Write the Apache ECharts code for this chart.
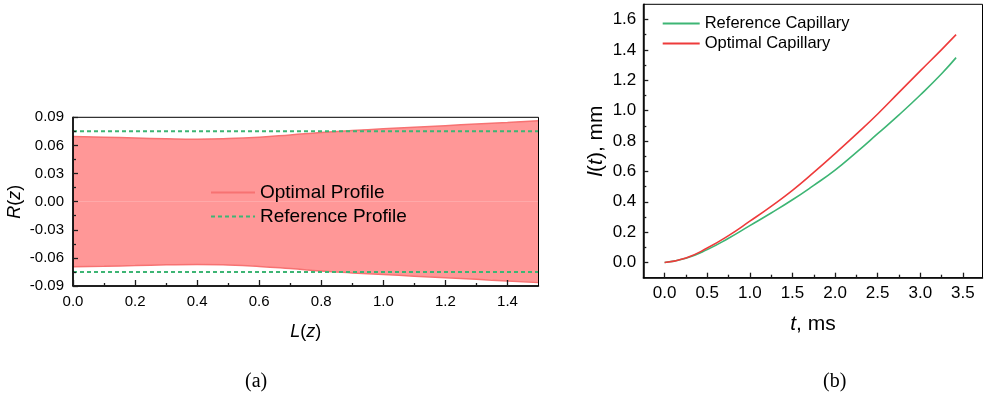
<!DOCTYPE html>
<html>
<head>
<meta charset="utf-8">
<script src="https://cdn.jsdelivr.net/npm/echarts@6/dist/echarts.min.js"></script>
<style>
  html, body { margin: 0; padding: 0; background: #fff; }
  #chart { width: 988px; height: 402px; }
</style>
</head>
<body>
<div id="chart"></div>
<script>
// (a) capillary radius profiles along the axis
const zPos = [0, 0.1, 0.2, 0.3, 0.4, 0.5, 0.6, 0.7, 0.8, 0.9, 1.0, 1.1, 1.2, 1.3, 1.4, 1.5];
const optimalUpper = [0.0695, 0.0688, 0.0679, 0.0671, 0.0667, 0.0673, 0.0688, 0.0712, 0.0738, 0.0759, 0.0777, 0.0794, 0.0811, 0.0828, 0.0845, 0.0863];
const optimalLower = [-0.0695, -0.0690, -0.0682, -0.0674, -0.0670, -0.0676, -0.0691, -0.0714, -0.0740, -0.0760, -0.0778, -0.0795, -0.0812, -0.0829, -0.0846, -0.0864];
const refZ = [0, 1.5];
const referenceUpper = [0.075, 0.075];
const referenceLower = [-0.075, -0.075];

// (b) meniscus position over time
const tMs = [0, 0.25, 0.5, 0.75, 1.0, 1.25, 1.5, 1.75, 2.0, 2.25, 2.5, 2.75, 3.0, 3.25, 3.42];
const referenceCapillary = [0, 0.028, 0.085, 0.160, 0.243, 0.326, 0.413, 0.508, 0.608, 0.725, 0.848, 0.972, 1.103, 1.243, 1.349];
const optimalCapillary = [0, 0.030, 0.095, 0.177, 0.272, 0.370, 0.475, 0.593, 0.717, 0.845, 0.978, 1.120, 1.262, 1.402, 1.500];

// tick positions
const aXTicks = [0, 0.2, 0.4, 0.6, 0.8, 1.0, 1.2, 1.4];
const aXMinor = [0.1, 0.3, 0.5, 0.7, 0.9, 1.1, 1.3];
const aYTicks = [-0.09, -0.06, -0.03, 0, 0.03, 0.06, 0.09];
const aYMinor = [-0.075, -0.045, -0.015, 0.015, 0.045, 0.075];
const bXTicks = [0, 0.5, 1.0, 1.5, 2.0, 2.5, 3.0, 3.5];
const bXMinor = [0.25, 0.75, 1.25, 1.75, 2.25, 2.75, 3.25];
const bYTicks = [0, 0.2, 0.4, 0.6, 0.8, 1.0, 1.2, 1.4, 1.6];
const bYMinor = [0.1, 0.3, 0.5, 0.7, 0.9, 1.1, 1.3, 1.5];

const FONT = '"Liberation Sans", Arial, sans-serif';
const SERIF = '"Liberation Serif", "Times New Roman", serif';
const FILL = '#ff9797';
const EDGE = '#f77272';
const GREEN = '#3db574';
const RED = '#ee3b3b';
const TICK = '#1c1c1c';

const pair = (xs, ys) => xs.map((x, i) => [x, ys[i]]);

function mainAxis(grid, min, max, ticks, fmt, fontSize, margin, tickLen, extra) {
  return Object.assign({
    gridIndex: grid, type: 'value', min: min, max: max, z: 10,
    axisLine: { show: true, onZero: false, lineStyle: { color: '#000', width: 1.5 } },
    axisTick: { show: true, inside: true, length: tickLen, customValues: ticks, lineStyle: { color: TICK, width: 1.3 } },
    axisLabel: { customValues: ticks, formatter: fmt, fontSize: fontSize, color: '#000', fontFamily: FONT, margin: margin },
    splitLine: { show: false }
  }, extra);
}
function minorAxis(grid, min, max, ticks, position) {
  return {
    gridIndex: grid, type: 'value', min: min, max: max, position: position, z: 10,
    axisLine: { show: false, onZero: false },
    axisTick: { show: true, inside: true, length: 3, customValues: ticks, lineStyle: { color: TICK, width: 1.3 } },
    axisLabel: { show: false },
    splitLine: { show: false }
  };
}
const italicRich = (size) => ({ fontSize: size, color: '#000', fontFamily: FONT, rich: { i: { fontStyle: 'italic', fontSize: size, fontFamily: FONT, color: '#000' } } });

const chart = echarts.init(document.getElementById('chart'), null, { renderer: 'canvas' });
chart.setOption({
  animation: false,
  grid: [
    { left: 73, top: 117.3, width: 465.5, height: 168.7, show: true, z: 10, borderColor: '#000', borderWidth: 1 },
    { left: 643.3, top: 4.3, width: 339.2, height: 273.4, show: true, z: 10, borderColor: '#000', borderWidth: 1 }
  ],
  xAxis: [
    mainAxis(0, 0, 1.5, aXTicks, v => v.toFixed(1), 15, 8, 6, {
      position: 'bottom', name: '{i|L}({i|z})', nameLocation: 'middle', nameGap: 37, nameTextStyle: italicRich(18)
    }),
    minorAxis(0, 0, 1.5, aXMinor, 'bottom'),
    mainAxis(1, -0.25, 3.73, bXTicks, v => v.toFixed(1), 17, 7, 5, {
      position: 'bottom', name: '{i|t}, ms', nameLocation: 'middle', nameGap: 36, nameTextStyle: italicRich(21)
    }),
    minorAxis(1, -0.25, 3.73, bXMinor, 'bottom')
  ],
  yAxis: [
    mainAxis(0, -0.09, 0.09, aYTicks, v => v.toFixed(2), 15, 9, 5, {
      position: 'left', name: '{i|R}({i|z})', nameLocation: 'middle', nameGap: 49, nameTextStyle: italicRich(18)
    }),
    minorAxis(0, -0.09, 0.09, aYMinor, 'left'),
    mainAxis(1, -0.1, 1.7, bYTicks, v => v.toFixed(1), 17, 7, 5, {
      position: 'left', name: '{i|l}({i|t}), mm', nameLocation: 'middle', nameGap: 37, nameTextStyle: italicRich(21)
    }),
    minorAxis(1, -0.1, 1.7, bYMinor, 'left')
  ],
  legend: [
    {
      left: 205, top: 178, orient: 'vertical', itemWidth: 44, itemHeight: 14, itemGap: 5,
      itemStyle: { opacity: 0 },
      textStyle: { fontSize: 19, color: '#000', fontFamily: FONT },
      data: ['Optimal Profile', 'Reference Profile'],
      selectedMode: false
    },
    {
      left: 656.7, top: 10, orient: 'vertical', itemWidth: 37, itemHeight: 12, itemGap: 3,
      itemStyle: { opacity: 0 },
      textStyle: { fontSize: 16.5, color: '#000', fontFamily: FONT },
      data: ['Reference Capillary', 'Optimal Capillary'],
      selectedMode: false
    }
  ],
  graphic: [
    { type: 'text', left: 245, top: 372, style: { text: '(a)', font: '20px ' + SERIF, fill: '#000' } },
    { type: 'text', left: 823, top: 372, style: { text: '(b)', font: '20px ' + SERIF, fill: '#000' } }
  ],
  series: [
    {
      name: 'Optimal Profile', type: 'line', xAxisIndex: 0, yAxisIndex: 0,
      data: pair(zPos, optimalUpper), smooth: true, symbol: 'none',
      lineStyle: { color: EDGE, width: 1.5 }, itemStyle: { color: EDGE },
      areaStyle: { color: FILL, opacity: 1, origin: 'auto' }, z: 2
    },
    {
      name: 'Optimal Profile', type: 'line', xAxisIndex: 0, yAxisIndex: 0,
      data: pair(zPos, optimalLower), smooth: true, symbol: 'none',
      lineStyle: { color: EDGE, width: 1.5 }, itemStyle: { color: EDGE },
      areaStyle: { color: FILL, opacity: 1, origin: 'auto' }, z: 2
    },
    {
      name: 'Reference Profile', type: 'line', xAxisIndex: 0, yAxisIndex: 0,
      data: pair(refZ, referenceUpper), symbol: 'none',
      lineStyle: { color: GREEN, width: 2, type: [4, 3] }, itemStyle: { color: GREEN }, z: 3
    },
    {
      name: 'Reference Profile', type: 'line', xAxisIndex: 0, yAxisIndex: 0,
      data: pair(refZ, referenceLower), symbol: 'none',
      lineStyle: { color: GREEN, width: 2, type: [4, 3] }, itemStyle: { color: GREEN }, z: 3
    },
    {
      name: 'Reference Capillary', type: 'line', xAxisIndex: 2, yAxisIndex: 2,
      data: pair(tMs, referenceCapillary), smooth: true, symbol: 'none',
      lineStyle: { color: GREEN, width: 1.6 }, itemStyle: { color: GREEN }
    },
    {
      name: 'Optimal Capillary', type: 'line', xAxisIndex: 2, yAxisIndex: 2,
      data: pair(tMs, optimalCapillary), smooth: true, symbol: 'none',
      lineStyle: { color: RED, width: 1.6 }, itemStyle: { color: RED }
    }
  ]
});
</script>
</body>
</html>
